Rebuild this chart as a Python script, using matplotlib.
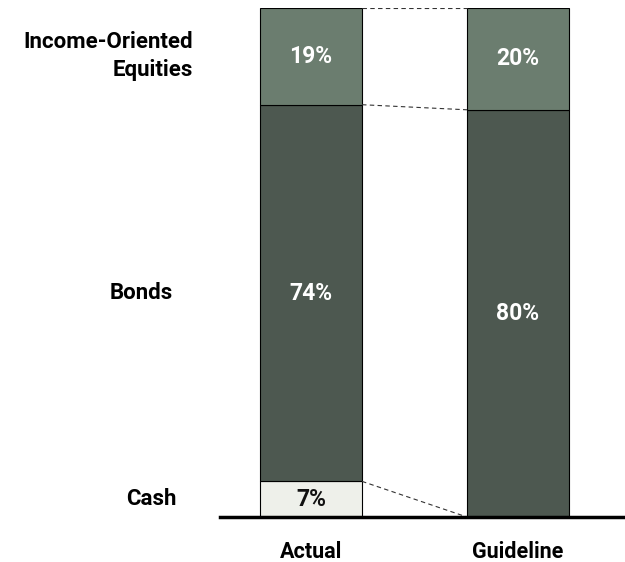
import matplotlib.pyplot as plt

bars = ["Actual", "Guideline"]
segments = ["Cash", "Bonds", "Income-Oriented\nEquities"]
cash = [7, 0]
bonds = [74, 80]
equities = [19, 20]
colors = ["#eef0ea", "#4d5850", "#6b7d6f"]

plt.rcParams["font.family"] = ["Roboto", "DejaVu Sans"]
plt.rcParams["font.weight"] = "bold"

fig = plt.figure(figsize=(6.25, 5.62), dpi=100)
ax = fig.add_axes([220 / 625, 45 / 562, 405 / 625, 509 / 562])

x = [0, 1]
w = 0.493
series = [cash, bonds, equities]
bottoms = [0, 0]
tops = []
for vals, c in zip(series, colors):
    ax.bar(x, vals, w, bottom=bottoms, color=c, edgecolor="black", linewidth=0.8)
    for i in range(2):
        if vals[i] > 0:
            tc = "#111111" if c == colors[0] else "white"
            ax.text(x[i], bottoms[i] + vals[i] / 2, f"{vals[i]}%", ha="center", va="center",
                    color=tc, fontsize=16.5, fontweight="bold")
    bottoms = [b + v for b, v in zip(bottoms, vals)]
    tops.append(list(bottoms))

# dashed connectors between segment tops
for t in tops:
    ax.plot([x[0] + w / 2, x[1] - w / 2], [t[0], t[1]], ls="--", color="#333333", lw=0.8,
            dashes=(4, 3))

ax.set_xlim(-91 / 207, 1 + 107 / 207)
ax.set_ylim(0, 100)
for s in ["top", "right", "left"]:
    ax.spines[s].set_visible(False)
ax.spines["bottom"].set_linewidth(2.5)
ax.set_yticks([])
ax.set_xticks(x)
ax.set_xticklabels(bars, fontsize=15.5, fontweight="bold")
ax.tick_params(axis="x", length=0, pad=17)

# segment labels to the left, centred on Actual segments
label_x = [151, 141, 107]
b = 0
for name, v, lx in zip(segments, [cash[0], bonds[0], equities[0]], label_x):
    ha = "right" if "\n" in name else "center"
    xx = 193 if "\n" in name else lx
    fig.text(xx / 625, (45 + (b + v / 2) * 5.09) / 562, name, ha=ha, va="center",
             fontsize=16, fontweight="bold", linespacing=1.35)
    b += v

fig.savefig("out.png", dpi=100)
